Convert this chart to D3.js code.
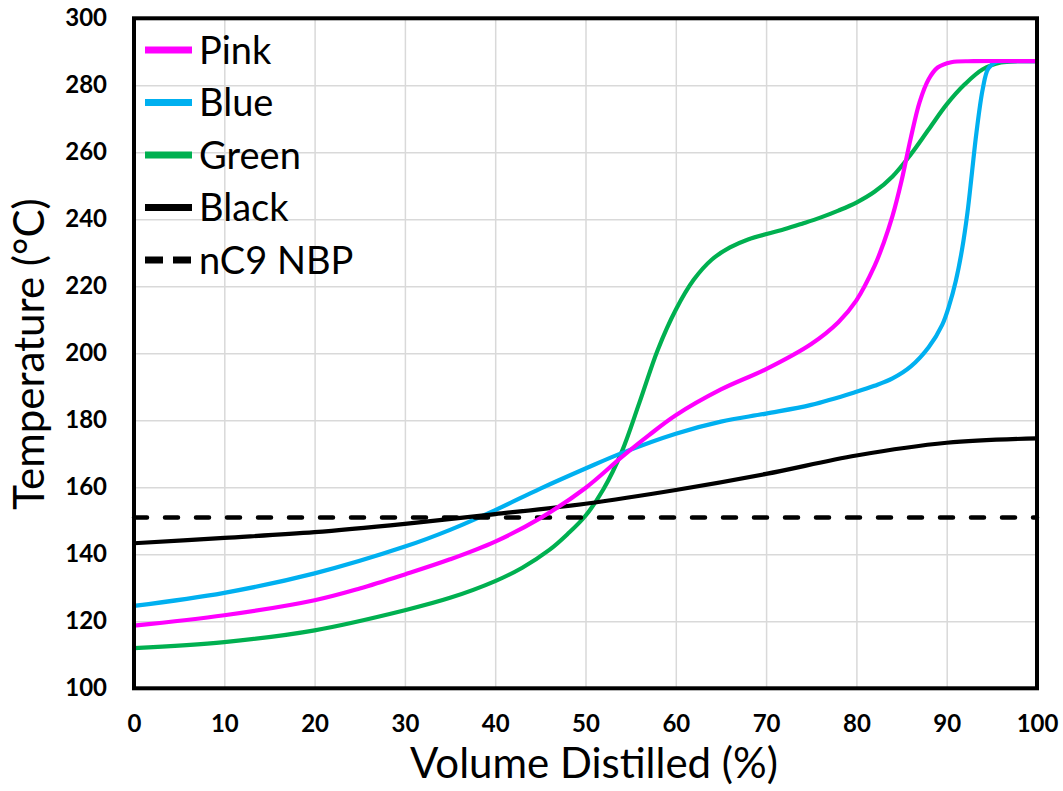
<!DOCTYPE html>
<html>
<head>
<meta charset="utf-8">
<script src="https://cdn.jsdelivr.net/npm/d3@7"></script>
<style>
  body { margin: 0; background: #fff; }
  svg text { font-family: Lato, "Open Sans", sans-serif; }
</style>
</head>
<body>
<div id="chart"></div>
<script>
// values: [volume distilled %, temperature °C]
var pinkData = [[0,118.7],[10,121.8],[20,126.3],[25,129.8],[30,134],[35,138.5],[40,143.8],[45,150.8],[50,159.8],[54,169],[57,175.5],[60,181.5],[65,189.2],[70,195.3],[75,202.8],[78,209.3],[80,215.8],[82,226],[83,232.8],[84,241],[85,251.5],[86,264],[87,275],[88,281.8],[89,285.3],[90.5,286.9],[93,287.2],[100,287.2]];
var blueData = [[0,124.6],[10,128.5],[20,134.3],[30,142.3],[35,147.3],[40,153.2],[45,159.6],[50,165.6],[54,170.2],[60,176],[65,179.6],[70,182],[75,184.6],[80,188.5],[82,190.3],[84,192.5],[86,196],[88,201.8],[89.5,208.5],[90.3,214.5],[91,221.5],[91.7,231],[92.3,242],[92.8,254],[93.3,266],[94,279],[94.6,285],[95.5,287],[97,287.2],[100,287.2]];
var greenData = [[0,112],[10,113.8],[20,117.3],[30,123.3],[35,127],[40,132],[43,136],[46,141.3],[48,146],[50,151.5],[52,159.5],[54,170.5],[56,185.5],[58,201],[60,213],[62,222],[64,228],[66,231.6],[68,234],[72,237],[74,238.7],[76,240.5],[78,242.6],[80,245],[82,248.2],[84,252.8],[86,259.3],[88,266.8],[90,274.3],[92,280.3],[94,284.8],[96,286.8],[98,287.2],[100,287.2]];
var blackData = [[0,143.3],[10,144.9],[20,146.6],[30,149.1],[40,152],[50,155.1],[60,159.2],[70,164],[80,169.5],[90,173.3],[100,174.6]];
var nbpData = [[0,151],[100,151]];

var xTicks = [0,10,20,30,40,50,60,70,80,90,100];
var yTicks = [100,120,140,160,180,200,220,240,260,280,300];

var legendNames = ["Pink","Blue","Green","Black","nC9 NBP"];
var legendColors = ["#FF00FF","#00B0F0","#00B050","#000000","#000000"];
var legendDashed = [false,false,false,false,true];

var w = 1063, h = 791;
var plotLeft = 134, plotRight = 1037, plotTop = 18.3, plotBottom = 688.3;

var svg = d3.select("#chart").append("svg")
  .attr("width", w)
  .attr("height", h);

svg.append("rect").attr("width", w).attr("height", h).attr("fill", "#fff");

var x = d3.scaleLinear().domain([0,100]).range([plotLeft, plotRight]);
var y = d3.scaleLinear().domain([100,300]).range([plotBottom, plotTop]);

//gridlines
svg.append("g")
  .attr("transform", "translate(0," + plotBottom + ")")
  .call(d3.axisBottom(x).tickValues(xTicks).tickSize(-(plotBottom - plotTop)).tickFormat(""))
  .call(function(g){
    g.select(".domain").remove();
    g.selectAll("line").attr("stroke", "#d9d9d9").attr("stroke-width", 1.5);
  });

svg.append("g")
  .attr("transform", "translate(" + plotLeft + ",0)")
  .call(d3.axisLeft(y).tickValues(yTicks).tickSize(-(plotRight - plotLeft)).tickFormat(""))
  .call(function(g){
    g.select(".domain").remove();
    g.selectAll("line").attr("stroke", "#d9d9d9").attr("stroke-width", 1.5);
  });

//tick labels
svg.append("g")
  .attr("transform", "translate(0," + plotBottom + ")")
  .call(d3.axisBottom(x).tickValues(xTicks).tickSize(0).tickPadding(27))
  .call(function(g){
    g.select(".domain").remove();
    g.selectAll("text")
      .attr("font-family", "Lato, sans-serif")
      .attr("font-size", 24)
      .attr("font-weight", "bold")
      .attr("fill", "#000");
  });

svg.append("g")
  .attr("transform", "translate(" + plotLeft + ",0)")
  .call(d3.axisLeft(y).tickValues(yTicks).tickSize(0).tickPadding(27))
  .call(function(g){
    g.select(".domain").remove();
    g.selectAll("text")
      .attr("font-family", "Lato, sans-serif")
      .attr("font-size", 24)
      .attr("font-weight", "bold")
      .attr("fill", "#000");
  });

//series (smoothed like the spreadsheet lines)
var line = d3.line()
  .x(function(d){ return x(d[0]); })
  .y(function(d){ return y(d[1]); })
  .curve(d3.curveCatmullRom.alpha(0.5));

function addSeries(data, color, dashed){
  var p = svg.append("path")
    .datum(data)
    .attr("d", line)
    .attr("fill", "none")
    .attr("stroke", color)
    .attr("stroke-width", 4.2)
    .attr("stroke-linejoin", "round");
  if(dashed){
    p.attr("stroke-dasharray", "13,18").attr("stroke-linecap", "round").attr("stroke-width", 4.5);
  }
}

// draw order so pink sits on top like in the original
addSeries(greenData, legendColors[2], false);
addSeries(blueData, legendColors[1], false);
addSeries(blackData, legendColors[3], false);
addSeries(nbpData, legendColors[4], true);
addSeries(pinkData, legendColors[0], false);

//frame
svg.append("rect")
  .attr("x", plotLeft)
  .attr("y", plotTop)
  .attr("width", plotRight - plotLeft)
  .attr("height", plotBottom - plotTop)
  .attr("fill", "none")
  .attr("stroke", "#000")
  .attr("stroke-width", 4);

//legend
var legend = svg.append("g");
legendNames.forEach(function(name, i){
  var cy = 50 + i * 52.5;
  var l = legend.append("line")
    .attr("x1", 145).attr("x2", 192)
    .attr("y1", cy).attr("y2", cy)
    .attr("stroke", legendColors[i])
    .attr("stroke-width", 7);
  if(legendDashed[i]){
    l.attr("stroke-dasharray", "18,10");
  }
  legend.append("text")
    .attr("x", 199)
    .attr("y", cy)
    .attr("dy", "0.36em")
    .attr("font-size", 38)
    .attr("fill", "#000")
    .text(name);
});

//axis titles
svg.append("text")
  .attr("x", 594)
  .attr("y", 778)
  .attr("text-anchor", "middle")
  .attr("font-size", 42)
  .attr("fill", "#000")
  .text("Volume Distilled (%)");

svg.append("text")
  .attr("transform", "translate(44,354) rotate(-90)")
  .attr("text-anchor", "middle")
  .attr("font-size", 42)
  .attr("fill", "#000")
  .text("Temperature (°C)");
</script>
</body>
</html>
